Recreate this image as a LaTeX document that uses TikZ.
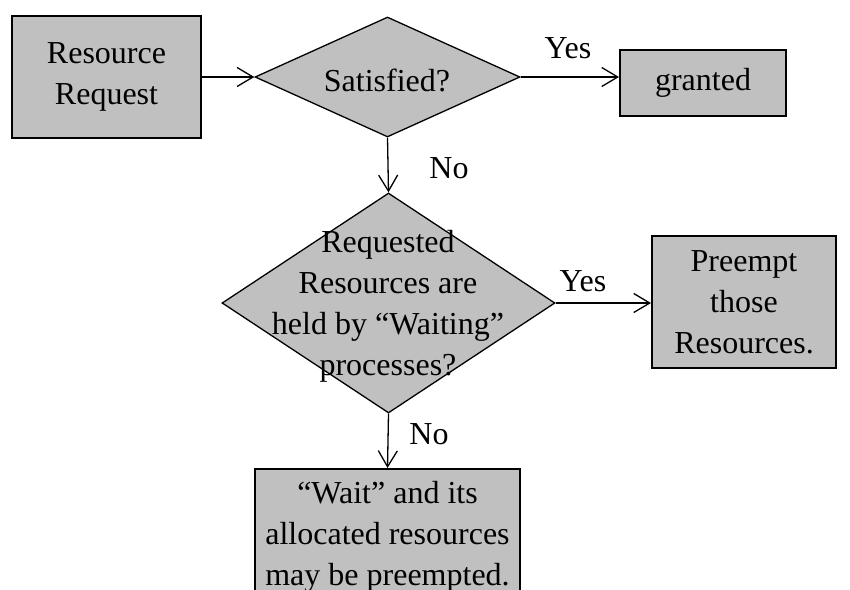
\documentclass[tikz,border=0pt]{standalone}
\usepackage{fontspec}
\setmainfont{Liberation Serif}
\usetikzlibrary{arrows.meta,shapes.geometric}
\definecolor{boxgray}{HTML}{C0C0C0}
\tikzset{
  box/.style={rectangle, draw=black, line width=2pt, fill=boxgray, inner sep=0pt, align=center},
  decision/.style={diamond, draw=black, line width=1.3pt, fill=boxgray, inner sep=0pt},
  txt/.style={inner sep=0pt, align=center},
  flow/.style={line width=1.3pt, -{Straight Barb[length=16pt,width=19pt,line width=1.3pt]}},
}
\begin{document}
\begin{tikzpicture}[x=1pt,y=-1pt,font=\fontsize{32}{41}\selectfont]
\clip (0,0) rectangle (850,589);
\fill[white] (0,0) rectangle (850,589);

% start box
\node[box, minimum width=189pt, minimum height=122pt] (req) at (106.5,77) {Resource\\Request};

% first decision
\node[decision, minimum width=265pt, minimum height=120pt] (d1) at (387.5,77) {};
\node[txt] (d1t) at (387,80) {Satisfied?};

% granted box
\node[box, minimum width=166pt, minimum height=66pt] (ok) at (703,83) {granted};

% second decision
\node[decision, minimum width=333pt, minimum height=220pt] (d2) at (388.5,303) {};
\node[txt] (d2t) at (388,306) {Requested\\Resources are\\held by “Waiting”\\processes?};

% preempt box
\node[box, minimum width=184pt, minimum height=132pt] (pre) at (744,302) {Preempt\\those\\Resources.};

% wait box (runs past the lower edge)
\node[box, minimum width=265pt, minimum height=136pt] (wait) at (387.5,537) {“Wait” and its\\allocated resources\\may be preempted.};

% connectors
\draw[flow] (req.east) -- (d1.west);
\draw[flow] (d1.east) -- (ok.west |- d1.east);
\draw[flow] (d1.south) -- (d2.north);
\draw[flow] (d2.east) -- (pre.west |- d2.east);
\draw[flow] (d2.south) -- (wait.north);

% branch labels
\node[txt] (y1) at (568,48) {Yes};
\node[txt] (n1) at (449,168) {No};
\node[txt] (y2) at (583,281) {Yes};
\node[txt] (n2) at (429,434) {No};
\end{tikzpicture}
\end{document}
